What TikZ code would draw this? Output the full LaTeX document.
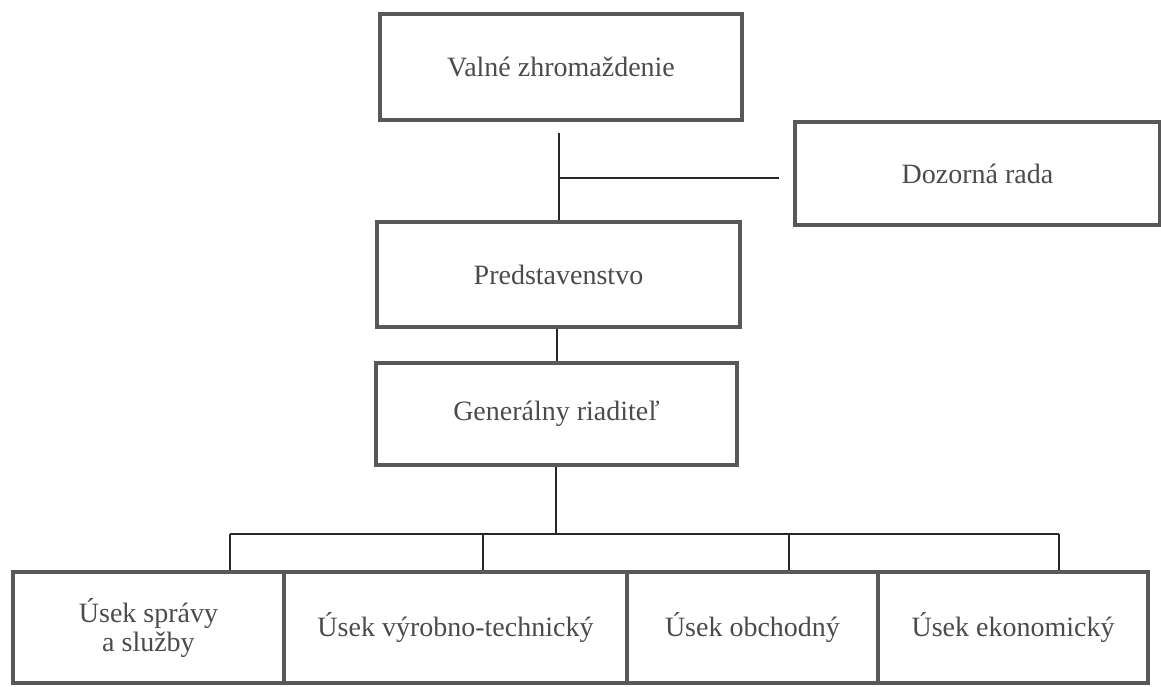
\documentclass[tikz,border=0pt]{standalone}
\usepackage{fontspec}
\setmainfont{Liberation Serif}
\definecolor{boxc}{RGB}{88,88,88}
\definecolor{linec}{RGB}{40,40,40}
\definecolor{txtc}{RGB}{75,75,75}
\begin{document}
\begin{tikzpicture}[x=1pt,y=-1pt,
  orgbox/.style={draw=boxc,line width=4.5pt,rectangle,inner sep=0pt,align=center,
    text=txtc,font=\fontsize{28}{29}\selectfont},
  conn/.style={draw=linec,line width=1.4pt}]
\useasboundingbox (0,0) rectangle (1161,687);
% top boxes
\node[orgbox,minimum width=362,minimum height=106] (valne) at (561,67) {Valné zhromaždenie};
\node[orgbox,minimum width=365,minimum height=103] (dozor) at (977.5,173.5) {Dozorná rada};
\node[orgbox,minimum width=363,minimum height=105] (pred) at (558.5,274.5) {Predstavenstvo};
\node[orgbox,minimum width=361,minimum height=102] (gen) at (556.5,414) {Generálny riaditeľ};
% bottom boxes
\node[orgbox,minimum width=271,minimum height=111] (u1) at (148.5,627.5) {Úsek správy\\a služby};
\node[orgbox,minimum width=343,minimum height=111] (u2) at (455.5,627.5) {Úsek výrobno-technický};
\node[orgbox,minimum width=251,minimum height=111] (u3) at (752.5,627.5) {Úsek obchodný};
\node[orgbox,minimum width=270,minimum height=111] (u4) at (1013,627.5) {Úsek ekonomický};
% connectors top
\coordinate (jtop) at (559,133);
\coordinate (jmid) at (559,178);
\coordinate (jend) at (779,178);
\coordinate (jpg) at (557,330);
\draw[conn] (jtop) -- (jtop |- pred.north);
\draw[conn] (jmid) -- (jend);
\draw[conn] (jpg |- pred.south) -- (jpg |- gen.north);
% connectors bottom
\coordinate (bar) at (556,534);
\coordinate (b1) at (230,534);
\coordinate (b2) at (483,534);
\coordinate (b3) at (789,534);
\coordinate (b4) at (1059,534);
\draw[conn] (gen.south -| bar) -- (bar);
\draw[conn] (b1) -- (b4);
\draw[conn] (b1) -- (b1 |- u1.north);
\draw[conn] (b2) -- (b2 |- u2.north);
\draw[conn] (b3) -- (b3 |- u3.north);
\draw[conn] (b4) -- (b4 |- u4.north);
\end{tikzpicture}
\end{document}
